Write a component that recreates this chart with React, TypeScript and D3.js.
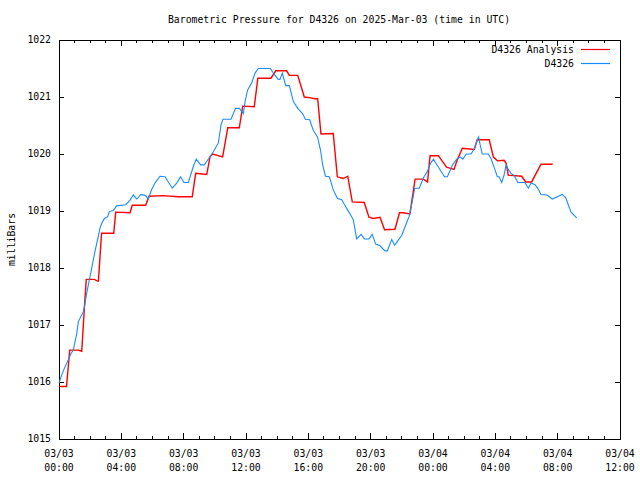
import React from "react";
import * as d3 from "d3";

// Time in hours since 2025-03-03 00:00 UTC
const analysisHours = [0, 0.48, 0.69, 1.22, 1.46, 1.64, 1.75, 2.27, 2.47, 2.53, 2.73, 3.51, 3.64, 4.56, 4.70, 5.56, 5.78, 6.67, 7.64, 8.55, 8.77, 9.48, 9.69, 9.86, 10.50, 10.83, 11.57, 11.79, 12.53, 12.76, 13.60, 13.91, 14.61, 14.78, 15.32, 15.74, 16.06, 16.43, 16.60, 16.81, 17.60, 17.86, 18.24, 18.53, 18.82, 19.59, 19.89, 20.17, 20.60, 20.89, 21.56, 21.85, 22.09, 22.52, 22.85, 23.38, 23.65, 23.81, 24.34, 24.87, 25.35, 25.52, 25.88, 26.65, 26.84, 27.61, 27.87, 28.13, 28.56, 28.69, 28.83, 29.69, 29.95, 30.33, 30.93, 31.68];
const analysisValues = [1015.92, 1015.92, 1016.56, 1016.56, 1016.54, 1017.35, 1017.80, 1017.80, 1017.77, 1017.77, 1018.61, 1018.61, 1018.98, 1018.97, 1019.10, 1019.10, 1019.26, 1019.27, 1019.25, 1019.25, 1019.66, 1019.64, 1019.95, 1020.00, 1019.95, 1020.46, 1020.46, 1020.84, 1020.83, 1021.33, 1021.33, 1021.46, 1021.46, 1021.38, 1021.38, 1021.00, 1020.99, 1020.97, 1020.97, 1020.35, 1020.36, 1019.60, 1019.57, 1019.61, 1019.16, 1019.15, 1018.89, 1018.87, 1018.89, 1018.67, 1018.68, 1018.97, 1018.97, 1018.95, 1019.56, 1019.56, 1019.51, 1019.97, 1019.97, 1019.77, 1019.73, 1019.87, 1020.10, 1020.08, 1020.25, 1020.25, 1019.95, 1019.88, 1019.89, 1019.84, 1019.63, 1019.61, 1019.51, 1019.51, 1019.82, 1019.82];

const observedHours = [0.00, 0.17, 0.39, 0.60, 0.77, 0.92, 1.03, 1.14, 1.24, 1.35, 1.56, 1.67, 1.78, 1.88, 1.99, 2.10, 2.20, 2.31, 2.42, 2.52, 2.63, 2.74, 2.91, 3.13, 3.23, 3.48, 3.70, 4.28, 4.56, 4.77, 4.99, 5.26, 5.56, 5.73, 5.95, 6.16, 6.48, 6.80, 7.27, 7.55, 7.80, 8.02, 8.30, 8.62, 8.81, 9.09, 9.32, 9.61, 9.90, 10.22, 10.40, 10.52, 11.04, 11.33, 11.58, 11.83, 11.94, 12.10, 12.37, 12.58, 12.79, 13.57, 13.80, 14.07, 14.18, 14.33, 14.55, 14.78, 15.04, 15.32, 15.63, 15.81, 16.09, 16.32, 16.59, 16.78, 16.92, 17.10, 17.35, 17.60, 17.87, 18.14, 18.45, 18.78, 18.89, 19.10, 19.38, 19.60, 19.89, 20.10, 20.32, 20.60, 20.92, 21.07, 21.35, 21.54, 21.77, 21.99, 22.20, 22.46, 22.63, 22.83, 23.12, 23.42, 23.63, 23.85, 24.03, 24.32, 24.74, 24.92, 25.26, 25.52, 25.75, 25.91, 26.14, 26.44, 26.65, 26.84, 26.93, 27.02, 27.16, 27.55, 27.72, 27.93, 28.13, 28.24, 28.41, 28.56, 28.69, 28.83, 29.01, 29.22, 29.44, 29.90, 30.12, 30.29, 30.55, 30.76, 30.93, 31.30, 31.66, 32.04, 32.30, 32.52, 32.68, 32.86, 33.22];
const observedValues = [1015.98, 1016.12, 1016.27, 1016.39, 1016.50, 1016.56, 1016.71, 1016.85, 1017.06, 1017.12, 1017.23, 1017.38, 1017.56, 1017.70, 1017.85, 1018.00, 1018.14, 1018.29, 1018.43, 1018.55, 1018.70, 1018.78, 1018.87, 1018.90, 1018.99, 1019.01, 1019.09, 1019.11, 1019.19, 1019.28, 1019.21, 1019.29, 1019.27, 1019.21, 1019.38, 1019.49, 1019.61, 1019.60, 1019.40, 1019.49, 1019.60, 1019.50, 1019.50, 1019.78, 1019.91, 1019.81, 1019.81, 1019.92, 1020.04, 1020.19, 1020.51, 1020.61, 1020.61, 1020.80, 1020.80, 1020.71, 1020.92, 1021.12, 1021.25, 1021.42, 1021.50, 1021.50, 1021.40, 1021.31, 1021.31, 1021.42, 1021.20, 1021.20, 1020.92, 1020.80, 1020.71, 1020.61, 1020.60, 1020.41, 1020.30, 1020.07, 1019.81, 1019.61, 1019.60, 1019.37, 1019.22, 1019.20, 1019.05, 1018.90, 1018.84, 1018.51, 1018.59, 1018.51, 1018.51, 1018.59, 1018.42, 1018.39, 1018.30, 1018.30, 1018.50, 1018.40, 1018.49, 1018.57, 1018.72, 1018.90, 1019.11, 1019.40, 1019.40, 1019.60, 1019.69, 1019.84, 1019.91, 1019.78, 1019.60, 1019.60, 1019.81, 1019.91, 1019.95, 1019.91, 1020.00, 1020.00, 1020.09, 1020.25, 1020.30, 1020.17, 1020.00, 1020.00, 1019.92, 1019.76, 1019.60, 1019.60, 1019.50, 1019.63, 1019.81, 1019.73, 1019.66, 1019.62, 1019.50, 1019.50, 1019.40, 1019.49, 1019.46, 1019.38, 1019.29, 1019.28, 1019.21, 1019.26, 1019.29, 1019.23, 1019.11, 1018.98, 1018.88];

const xTickHours = [0, 4, 8, 12, 16, 20, 24, 28, 32, 36];
const xTickDates = ["03/03", "03/03", "03/03", "03/03", "03/03", "03/03", "03/04", "03/04", "03/04", "03/04"];
const xTickTimes = ["00:00", "04:00", "08:00", "12:00", "16:00", "20:00", "00:00", "04:00", "08:00", "12:00"];
const yTicks = [1015, 1016, 1017, 1018, 1019, 1020, 1021, 1022];

const seriesNames = ["D4326 Analysis", "D4326"];
const seriesColors = ["#ff0000", "#1a8cff"];
const titleText = "Barometric Pressure for D4326 on 2025-Mar-03 (time in UTC)";

const W = 640, H = 480;
const L = 59, R = 620, T = 40, B = 439;
const FONT = "'DejaVu Sans Mono', monospace";
const FS = 9.8;

export default function App() {
  const x = d3.scaleLinear().domain([0, 36]).range([L, R]);
  const y = d3.scaleLinear().domain([1015, 1022]).range([B, T]);
  const line = d3.line<[number, number]>().x(d => x(d[0])).y(d => y(d[1]));
  const red: [number, number][] = analysisHours.map((h, i) => [h, analysisValues[i]]);
  const blue: [number, number][] = observedHours.map((h, i) => [h, observedValues[i]]);
  const minor = d3.range(0, 37, 1);

  return (
    <svg width={W} height={H} style={{ position: "absolute", left: 0, top: 0, background: "#fff" }}
      fontFamily={FONT} fontSize={FS}>
      <rect x={0} y={0} width={W} height={H} fill="#fff" />
      <text x={339} y={20} textAnchor="middle" dominantBaseline="middle">{titleText}</text>
      <text transform={`translate(12,${(T + B) / 2}) rotate(-90)`} textAnchor="middle" dominantBaseline="middle">milliBars</text>

      <g shapeRendering="crispEdges" stroke="#000" strokeWidth={1}>
        {minor.map(h => {
          const len = h % 4 === 0 ? 6 : 3;
          return (
            <g key={"mx" + h}>
              <line x1={x(h)} x2={x(h)} y1={B} y2={B - len} />
              <line x1={x(h)} x2={x(h)} y1={T} y2={T + len} />
            </g>
          );
        })}
        {yTicks.map(v => (
          <g key={"my" + v}>
            <line x1={L} x2={L + 5} y1={y(v)} y2={y(v)} />
            <line x1={R} x2={R - 5} y1={y(v)} y2={y(v)} />
          </g>
        ))}
        <rect x={L} y={T} width={R - L} height={B - T} fill="none" />
      </g>

      {yTicks.map(v => (
        <text key={"yl" + v} x={51} y={y(v)} textAnchor="end" dominantBaseline="middle">{v}</text>
      ))}
      {xTickHours.map((h, i) => (
        <g key={"xl" + h}>
          <text x={x(h)} y={454} textAnchor="middle" dominantBaseline="middle">{xTickDates[i]}</text>
          <text x={x(h)} y={468} textAnchor="middle" dominantBaseline="middle">{xTickTimes[i]}</text>
        </g>
      ))}

      <path d={line(red) || ""} fill="none" stroke={seriesColors[0]} strokeWidth={1.4} />
      <path d={line(blue) || ""} fill="none" stroke={seriesColors[1]} strokeWidth={1.1} />

      {seriesNames.map((n, i) => (
        <g key={n}>
          <text x={574} y={50 + i * 14} textAnchor="end" dominantBaseline="middle">{n}</text>
          <line x1={581} x2={610} y1={49.5 + i * 14} y2={49.5 + i * 14} stroke={seriesColors[i]} strokeWidth={1.2} />
        </g>
      ))}
    </svg>
  );
}
